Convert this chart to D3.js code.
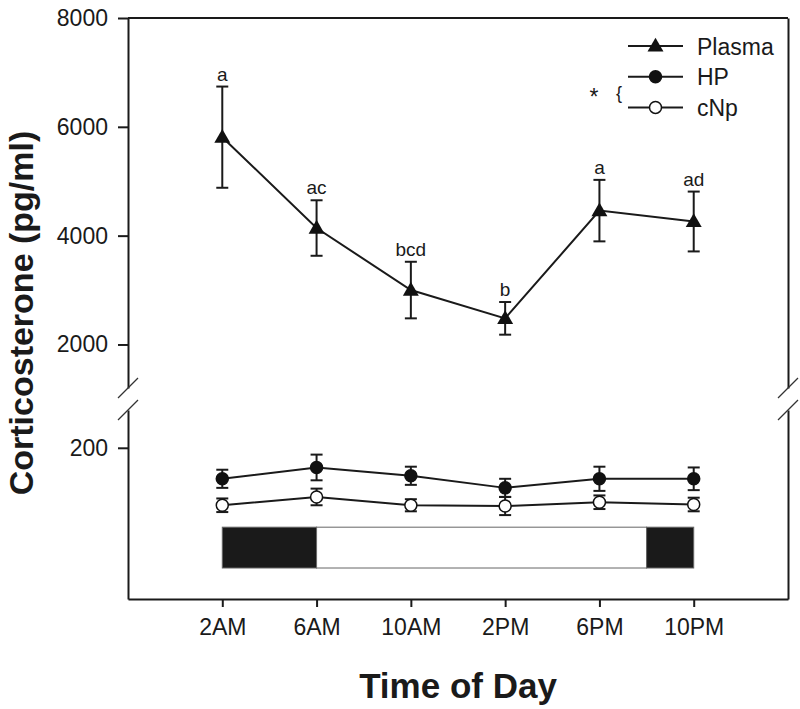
<!DOCTYPE html>
<html>
<head>
<meta charset="utf-8">
<script src="https://cdn.jsdelivr.net/npm/d3@7/dist/d3.min.js"></script>
<style>
  body { margin: 0; background: #fff; }
  svg { font-family: "Liberation Sans", Arial, sans-serif; }
  .axis path, .axis line { stroke: #1a1a1a; stroke-width: 2; }
  .axis text { font-size: 23px; fill: #1a1a1a; }
</style>
</head>
<body>
<svg id="chart" width="800" height="709"></svg>
<script>
// data
const hours = [2, 6, 10, 14, 18, 22];
const tickLabels = ['2AM', '6AM', '10AM', '2PM', '6PM', '10PM'];
const plasma = [5810, 4140, 3000, 2480, 4460, 4260];
const plasmaSE = [930, 510, 520, 300, 565, 550];
const hp = [159, 174, 163, 147, 159, 159];
const hpSE = [12, 17, 12, 12, 16, 15];
const cnp = [124, 135, 124, 123, 128, 125];
const cnpSE = [9, 11, 8, 12, 9, 9];
const letters = ['a', 'ac', 'bcd', 'b', 'a', 'ad'];
const upperTicks = [2000, 4000, 6000, 8000];
const lowerTicks = [200];
// light/dark phases (hours) drawn as the bar in the lower panel
const phases = [
  { from: 2, to: 6, dark: true },
  { from: 6, to: 20, dark: false },
  { from: 20, to: 22, dark: true }
];
const phaseBand = [41, 95];

const svg = d3.select('#chart');
const mLeft = 128, mRight = 788, mTop = 18, mBottom = 599;

const x = d3.scaleLinear().domain([-2, 26]).range([mLeft, mRight]);
const yUp = d3.scaleLinear().domain([1200, 8000]).range([388, mTop]);
const yLo = d3.scaleLinear().domain([0, 250]).range([mBottom, 410]);

// axes
svg.append('g').attr('class', 'axis').attr('transform', `translate(${mLeft},0)`)
  .call(d3.axisLeft(yUp).tickValues(upperTicks).tickSize(10).tickSizeOuter(0).tickPadding(10).tickFormat(d3.format('d')));
svg.append('g').attr('class', 'axis').attr('transform', `translate(${mLeft},0)`)
  .call(d3.axisLeft(yLo).tickValues(lowerTicks).tickSize(10).tickSizeOuter(0).tickPadding(10));
svg.append('g').attr('class', 'axis').attr('transform', `translate(${mRight},0)`)
  .call(d3.axisRight(yUp).tickValues([]).tickSizeOuter(0));
svg.append('g').attr('class', 'axis').attr('transform', `translate(${mRight},0)`)
  .call(d3.axisRight(yLo).tickValues([]).tickSizeOuter(0));
svg.append('g').attr('class', 'axis').attr('transform', `translate(0,${mBottom})`)
  .call(d3.axisBottom(x).tickValues(hours).tickSize(8).tickSizeOuter(0).tickPadding(12)
    .tickFormat((d, i) => tickLabels[i]));
svg.append('line').attr('x1', mLeft).attr('x2', mRight).attr('y1', mTop).attr('y2', mTop)
  .attr('stroke', '#1a1a1a').attr('stroke-width', 2);

// break marks
[mLeft, mRight].forEach(ax => {
  [yUp.range()[0], yLo.range()[1]].forEach(yy => {
    svg.append('line').attr('x1', ax - 10).attr('y1', yy + 10).attr('x2', ax + 10).attr('y2', yy - 10)
      .attr('stroke', '#333').attr('stroke-width', 1.2);
  });
});

// light/dark bar
svg.append('g').selectAll('rect').data(phases).join('rect')
  .attr('x', d => x(d.from)).attr('width', d => x(d.to) - x(d.from))
  .attr('y', yLo(phaseBand[1])).attr('height', yLo(phaseBand[0]) - yLo(phaseBand[1]))
  .attr('fill', d => d.dark ? '#1a1a1a' : '#fff')
  .attr('stroke', '#666').attr('stroke-width', 1);

const line = d3.line();
const tri = d3.symbol().type(d3.symbolTriangle).size(110);

function series(vals, se, y, marker) {
  const g = svg.append('g');
  g.append('path')
    .attr('d', line(hours.map((h, i) => [x(h), y(vals[i])])))
    .attr('fill', 'none').attr('stroke', '#1a1a1a').attr('stroke-width', 2);
  hours.forEach((h, i) => {
    const cx = x(h), y1 = y(vals[i] + se[i]), y0 = y(vals[i] - se[i]);
    g.append('line').attr('x1', cx).attr('x2', cx).attr('y1', y1).attr('y2', y0)
      .attr('stroke', '#1a1a1a').attr('stroke-width', 2);
    [y1, y0].forEach(yy => g.append('line').attr('x1', cx - 6).attr('x2', cx + 6)
      .attr('y1', yy).attr('y2', yy).attr('stroke', '#1a1a1a').attr('stroke-width', 2));
  });
  hours.forEach((h, i) => marker(g, x(h), y(vals[i])));
}

const markTri = (g, cx, cy) => g.append('path').attr('d', tri)
  .attr('transform', `translate(${cx},${cy + 1})`).attr('fill', '#111');
const markDot = (g, cx, cy) => g.append('circle').attr('cx', cx).attr('cy', cy).attr('r', 6)
  .attr('fill', '#111').attr('stroke', '#111').attr('stroke-width', 1.5);
const markOpen = (g, cx, cy) => g.append('circle').attr('cx', cx).attr('cy', cy).attr('r', 6)
  .attr('fill', '#fff').attr('stroke', '#111').attr('stroke-width', 1.5);

series(plasma, plasmaSE, yUp, markTri);
series(hp, hpSE, yLo, markDot);
series(cnp, cnpSE, yLo, markOpen);

// significance letters
svg.append('g').selectAll('text').data(letters).join('text')
  .attr('x', (d, i) => x(hours[i]))
  .attr('y', (d, i) => yUp(plasma[i] + plasmaSE[i]) - 6)
  .attr('text-anchor', 'middle').attr('font-size', 19).attr('fill', '#1a1a1a')
  .text(d => d);

// legend
const legend = [
  { name: 'Plasma', mark: markTri },
  { name: 'HP', mark: markDot },
  { name: 'cNp', mark: markOpen }
];
const lg = svg.append('g');
legend.forEach((d, i) => {
  const ly = 46 + i * 30.7;
  lg.append('line').attr('x1', 628).attr('x2', 683).attr('y1', ly).attr('y2', ly)
    .attr('stroke', '#1a1a1a').attr('stroke-width', 2);
  d.mark(lg, 655.5, ly);
  lg.append('text').attr('x', 697).attr('y', ly + 8.5).attr('font-size', 23).attr('fill', '#1a1a1a')
    .text(d.name);
});
lg.append('text').attr('x', 594).attr('y', 105).attr('font-size', 23).attr('text-anchor', 'middle')
  .attr('fill', '#1a1a1a').text('*');
lg.append('text').attr('x', 619).attr('y', 99).attr('font-size', 18).attr('text-anchor', 'middle')
  .attr('fill', '#1a1a1a').text('{');

// axis titles
svg.append('text').attr('x', (mLeft + mRight) / 2).attr('y', 698)
  .attr('text-anchor', 'middle').attr('font-size', 35).attr('font-weight', 'bold')
  .attr('fill', '#1a1a1a').text('Time of Day');
svg.append('text').attr('transform', `translate(33,313) rotate(-90)`)
  .attr('text-anchor', 'middle').attr('font-size', 34).attr('font-weight', 'bold')
  .attr('fill', '#1a1a1a').text('Corticosterone (pg/ml)');
</script>
</body>
</html>
